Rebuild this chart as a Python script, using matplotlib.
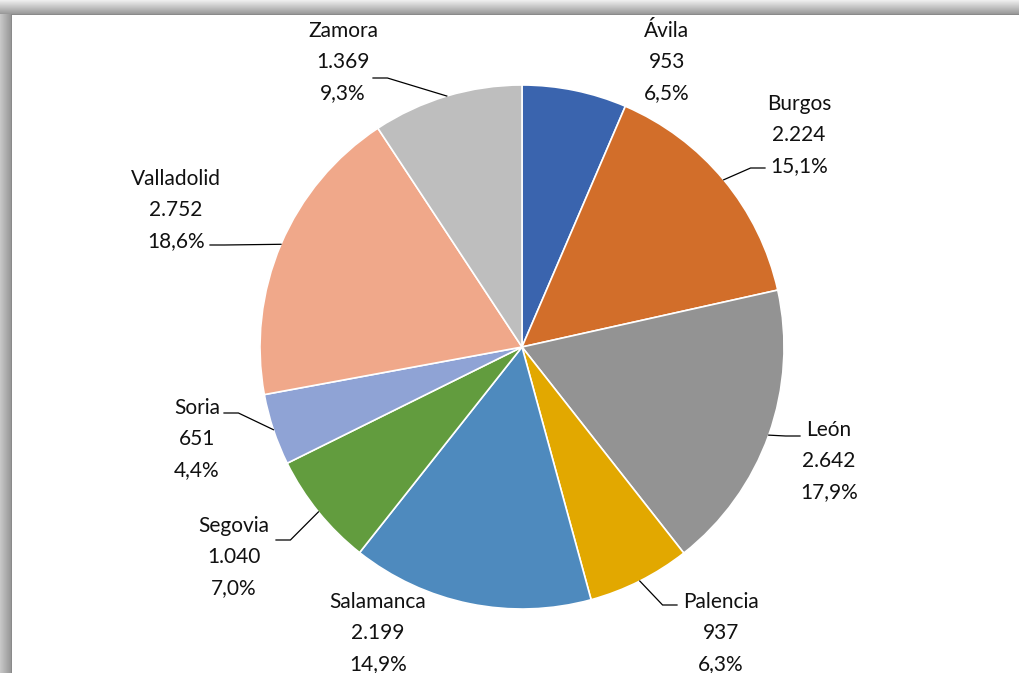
import matplotlib.pyplot as plt
import numpy as np
from matplotlib.patches import Rectangle

provinces = ["Ávila", "Burgos", "León", "Palencia", "Salamanca",
             "Segovia", "Soria", "Valladolid", "Zamora"]
values = [953, 2224, 2642, 937, 2199, 1040, 651, 2752, 1369]
colors = ["#3A64AE", "#D26E2A", "#939393", "#E2A800", "#4E8ABE",
          "#629C3E", "#8FA3D5", "#F0A88A", "#BEBEBE"]

# label centre (pixels) and elbow of the leader line, if any
label_pos = {
    "Ávila": (667, 62, None),
    "Burgos": (799, 135, (765, 168)),
    "León": (829, 461, (800, 436)),
    "Palencia": (721, 633, (677, 605)),
    "Salamanca": (378, 633, None),
    "Segovia": (234, 557, (276, 540)),
    "Soria": (197, 439, (224, 413)),
    "Valladolid": (176, 210, (210, 245)),
    "Zamora": (343, 62, (373, 78)),
}

W, H = 1020, 673
cx, cy, R = 522, 347, 262

plt.rcParams['font.family'] = ['Lato', 'DejaVu Sans']

fig = plt.figure(figsize=(W / 100, H / 100), dpi=100)
ax = fig.add_axes([0, 0, 1, 1])


def px(x, y):
    return (x - cx) / R, (cy - y) / R


wedges, _ = ax.pie(values, colors=colors, startangle=90, counterclock=False,
                   radius=1, center=(0, 0), frame=True,
                   wedgeprops=dict(edgecolor="white", linewidth=1.2))
ax.set_xlim(-cx / R, (W - cx) / R)
ax.set_ylim(-(H - cy) / R, cy / R)
ax.set_aspect("auto")
ax.axis("off")

total = sum(values)
for name, val, w in zip(provinces, values, wedges):
    lx, ly, elbow = label_pos[name]
    pct = f"{100 * val / total:.1f}".replace(".", ",")
    txt = f"{name}\n{val:,}".replace(",", ".") + f"\n{pct}%"
    tx, ty = px(lx, ly)
    ax.text(tx, ty, txt, ha="center", va="center", fontsize=15,
            linespacing=1.68, color="#111111")
    if elbow is not None:
        mid = np.deg2rad((w.theta1 + w.theta2) / 2)
        ex, ey = np.cos(mid), np.sin(mid)
        bx, by = px(*elbow)
        side = -1 if ex > 0 else 1
        sx = bx + side * 0.055
        ax.plot([bx, sx, ex], [by, by, ey], color="black", lw=0.9,
                solid_joinstyle="miter")

# shadowed frame on top and left
for i in range(15):
    g = 0.93 - 0.35 * (i / 14)
    fig.patches.append(Rectangle((0, H - i - 1), W, 1, transform=None,
                                 facecolor=(g, g, g), edgecolor="none"))
for i in range(12):
    g = 0.78 - 0.2 * (i / 11)
    fig.patches.append(Rectangle((i, 0), 1, H - 14, transform=None,
                                 facecolor=(g, g, g), edgecolor="none"))
fig.patches.append(Rectangle((11, 0), 1, H - 14, transform=None,
                             facecolor="#8a8a8a", edgecolor="none"))
fig.patches.append(Rectangle((11, H - 15), W, 1, transform=None,
                             facecolor="#8a8a8a", edgecolor="none"))

fig.savefig("out.png", dpi=100)
